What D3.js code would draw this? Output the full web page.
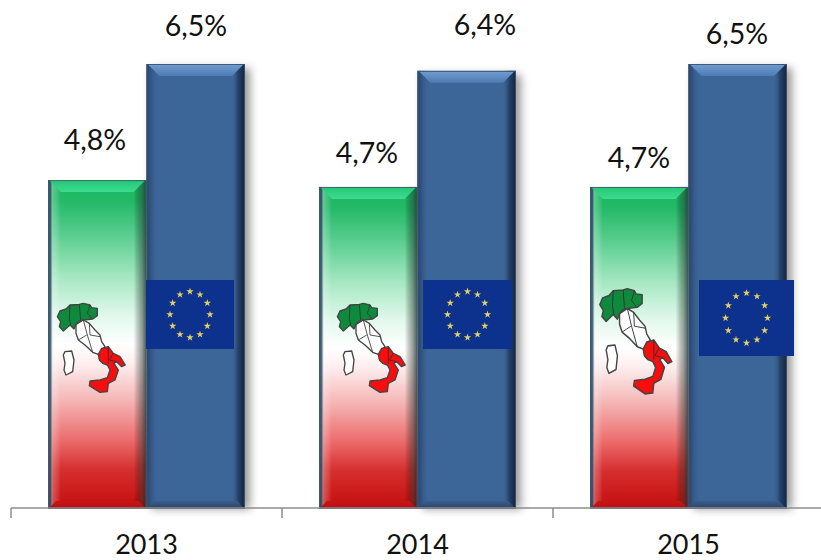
<!DOCTYPE html>
<html>
<head>
<meta charset="utf-8">
<script src="https://cdn.jsdelivr.net/npm/d3@7"></script>
<style>
html,body{margin:0;padding:0;background:#fff;}
svg{display:block;}
text{font-family:Lato,"Open Sans",sans-serif;fill:#111;}
</style>
</head>
<body>
<div id="chart"></div>
<script>
// chart values
const years=["2013","2014","2015"];
const seriesNames=["Italia","UE"];
const italyValues=[4.8,4.7,4.7];
const euValues=[6.5,6.4,6.5];

const svgWidth=821;
const svgHeight=560;
const margin={t:0,r:-3,b:52,l:11};
const height=svgHeight-margin.b;

const svg=d3.select("#chart").append("svg")
    .attr("width",svgWidth)
    .attr("height",svgHeight);
const defs=svg.append("defs");

// scales
const x0=d3.scaleBand().domain(years).range([margin.l,svgWidth-margin.r]);
const x1=d3.scaleBand().domain(seriesNames).range([37,234]);
const y=d3.scaleLinear().domain([0,6.5]).range([height,64]);

// gradients
function gradient(id,horizontal,stops){
    const g=defs.append("linearGradient").attr("id",id)
        .attr("x1",0).attr("y1",0)
        .attr("x2",horizontal?1:0).attr("y2",horizontal?0:1);
    stops.forEach(s=>g.append("stop").attr("offset",s[0]).attr("stop-color",s[1]).attr("stop-opacity",s[2]===undefined?1:s[2]));
}
gradient("tricolore",false,[[0,"#1db866"],[0.06,"#22b866"],[0.16,"#55cc8c"],[0.3,"#a8e8c4"],[0.42,"#e4f9ee"],[0.5,"#ffffff"],[0.56,"#fdeeee"],[0.67,"#f5b5b5"],[0.79,"#ec6c6c"],[0.88,"#d62f2f"],[1,"#c40c0c"]]);
gradient("sideIt",true,[[0,"#2c4664",1],[0.03,"#3a5a70",0.85],[0.05,"#ffffff",0.25],[0.1,"#ffffff",0.12],[0.13,"#ffffff",0],[0.87,"#000000",0],[0.95,"#20352a",0.45],[1,"#1e2c30",0.8]]);
gradient("sideEu",true,[[0,"#26406a",1],[0.07,"#35598a",0.6],[0.12,"#3d6698",0],[0.86,"#3d6698",0],[0.93,"#223c60",0.9],[1,"#14233c",1]]);
gradient("topEu",false,[[0,"#6f9ace"],[1,"#4d7cb2"]]);
gradient("bottomEu",false,[[0,"#3a5d88"],[1,"#26436a"]]);
gradient("topIt",false,[[0,"#27c878"],[1,"#3cdc90"]]);
gradient("bottomIt",false,[[0,"#cc1414"],[1,"#b01015"]]);

const blur=defs.append("filter").attr("id","shadow").attr("x","-30%").attr("width","160%");
blur.append("feGaussianBlur").attr("stdDeviation",4);
const pict=defs.append("filter").attr("id","pict").attr("x","-5%").attr("y","-5%").attr("width","110%").attr("height","110%");
pict.append("feGaussianBlur").attr("stdDeviation",0.55);

const bevel=11;

function drawBar(g,bx,bw,top,kind){
    const bottom=height+1;
    const isIt=kind==="it";
    // soft shadow on the right
    g.append("rect").attr("x",bx+5).attr("y",top+4).attr("width",bw).attr("height",bottom-top-4)
        .attr("fill","#555").attr("opacity",isIt?0:0.6).attr("filter","url(#shadow)");
    g.append("rect").attr("x",bx).attr("y",top).attr("width",bw).attr("height",bottom-top)
        .attr("fill",isIt?"url(#tricolore)":"#3d6698");
    g.append("rect").attr("x",bx).attr("y",top).attr("width",bw).attr("height",bottom-top)
        .attr("fill",isIt?"url(#sideIt)":"url(#sideEu)");
    g.append("path")
        .attr("d",`M${bx+2},${top+1}H${bx+bw-2}L${bx+bw-bevel-2},${top+bevel+1}H${bx+bevel+2}Z`)
        .attr("fill",isIt?"url(#topIt)":"url(#topEu)");
    g.append("path")
        .attr("d",`M${bx},${bottom}H${bx+bw}L${bx+bw-bevel+3},${bottom-bevel+3}H${bx+bevel-3}Z`)
        .attr("fill",isIt?"url(#bottomIt)":"url(#bottomEu)");
    g.append("rect").attr("x",bx+0.5).attr("y",top+0.5).attr("width",bw-1).attr("height",bottom-top-1)
        .attr("fill","none").attr("stroke",isIt?"#3f5c70":"#3f5876").attr("stroke-width",1).attr("opacity",0.85);
}

// bars, EU first so the shadow falls behind the next group
const groups=svg.selectAll("g.year").data(years).enter().append("g")
    .attr("class","year")
    .attr("transform",d=>`translate(${x0(d)},0)`);
groups.each(function(d,i){
    const g=d3.select(this);
    drawBar(g,x1("UE"),x1.bandwidth(),y(euValues[i]),"eu");
    drawBar(g,x1("Italia"),x1.bandwidth(),y(italyValues[i]),"it");
});

// map of Italy, outlines at 3x
const northPath="M22,65 L30,48 L48,42 L60,30 L88,28 L100,25 L120,30 L125,38 L142,40 L142,62 L128,72 L100,75 L88,78 L78,88 L72,102 L60,90 L40,108 L28,95 L32,80 Z";
const northLines="M60,30 L58,70 L62,90 M88,28 L92,75 M120,30 L112,55 L125,70";
const centrePath="M78,88 L100,75 L118,85 L135,105 L150,120 L155,140 L165,155 L145,178 L128,172 L105,150 L85,135 L78,115 Z";
const centreLines="M100,75 L112,120 L128,172 M118,85 L120,120 L150,125 M85,135 L110,120";
const southPath="M145,178 L155,160 L175,155 L190,175 L210,185 L226,210 L215,215 L200,200 L192,205 L205,225 L195,255 L175,265 L172,290 L150,292 L118,272 L120,258 L150,255 L172,248 L180,225 L172,210 L158,205 L148,195 Z";
const southLines="M175,155 L175,205 M190,175 L178,195 L200,200";
const sardiniaPath="M40,180 L45,170 L65,168 L72,195 L68,230 L48,240 L42,225 L45,205 Z";

function drawItaly(px,py,sx,sy){
    const m=svg.append("g").attr("transform",`translate(${px},${py}) scale(${sx/3},${sy/3})`).attr("filter","url(#pict)");
    const part=(d,fill)=>m.append("path").attr("d",d).attr("fill",fill)
        .attr("stroke","#444").attr("stroke-width",4).attr("stroke-linejoin","round");
    const lines=d=>m.append("path").attr("d",d).attr("fill","none")
        .attr("stroke","#333").attr("stroke-width",2.5);
    part(sardiniaPath,"#ffffff");
    part(centrePath,"#ffffff");
    lines(centreLines);
    part(northPath,"#0c8a3a");
    lines(northLines);
    part(southPath,"#fa0c0c");
    lines(southLines);
}
drawItaly(50,295,1,1);
drawItaly(330,295,1,1);
drawItaly(592,279,1.06,1.18);

// EU flags
function drawFlag(fx,fy,fw,fh,rx,ry){
    const f=svg.append("g").attr("filter","url(#pict)");
    f.append("rect").attr("x",fx).attr("y",fy).attr("width",fw).attr("height",fh).attr("fill","#08308e");
    const star=d3.symbol().type(d3.symbolStar).size(17);
    f.selectAll("path").data(d3.range(12)).enter().append("path")
        .attr("d",star)
        .attr("fill","#e3cf62")
        .attr("transform",i=>{
            const a=i*Math.PI/6;
            return `translate(${fx+fw/2+rx*Math.sin(a)},${fy+fh/2-ry*Math.cos(a)})`;
        });
}
drawFlag(146,280,88,69,20,23);
drawFlag(423,280,89,69,20,23);
drawFlag(699,280,95,76,21,25);

// value labels, each one sits at its own place in the original
const italyLabelBase=[150,163,168];
const euLabelBase=[36,35,44];
const italyLabelX=[95,367,639];
const euLabelX=[196,485,737];
const fmt=v=>v.toFixed(1).replace(".",",")+"%";
const labels=svg.append("g").attr("font-size",28.5);
labels.selectAll("text.it").data(italyValues).enter().append("text").attr("class","it")
    .attr("x",(d,i)=>italyLabelX[i]).attr("y",(d,i)=>italyLabelBase[i])
    .attr("text-anchor","middle").text(fmt);
labels.selectAll("text.eu").data(euValues).enter().append("text").attr("class","eu")
    .attr("x",(d,i)=>euLabelX[i]).attr("y",(d,i)=>euLabelBase[i])
    .attr("text-anchor","middle").text(fmt);

// axis, ticks go on the band edges
const axis=svg.append("g").attr("transform",`translate(0,${height})`);
axis.call(d3.axisBottom(x0).tickSize(0).tickPadding(0));
axis.select(".domain").remove();
axis.selectAll("text").attr("dy",null).attr("y",46).attr("font-size",27).style("font-family",'Lato,"Open Sans",sans-serif').attr("fill","#111");
axis.append("line").attr("x1",margin.l).attr("x2",svgWidth).attr("stroke","#8c8c8c").attr("stroke-width",1.5);
axis.selectAll("line.edge").data(years).enter().append("line").attr("class","edge")
    .attr("x1",d=>x0(d)).attr("x2",d=>x0(d)).attr("y1",0).attr("y2",10)
    .attr("stroke","#8c8c8c").attr("stroke-width",1.5);
</script>
</body>
</html>
